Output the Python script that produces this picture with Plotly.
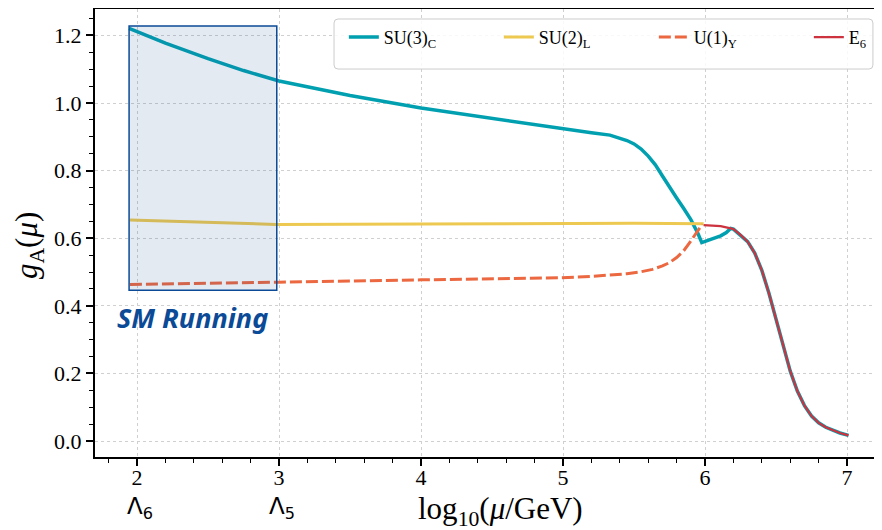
import plotly.graph_objects as go

# ---- data ----
su3_x = [1.944, 2.2, 2.5, 2.75, 3.0, 3.5, 4.0, 4.5, 5.0, 5.2, 5.33, 5.40, 5.45, 5.50, 5.55, 5.60, 5.65, 5.70,
         5.75, 5.80, 5.85, 5.90, 5.95, 5.977, 6.05, 6.11, 6.15, 6.18, 6.20, 6.25, 6.30, 6.35, 6.40, 6.45,
         6.50, 6.55, 6.60, 6.65, 6.70, 6.75, 6.80, 6.85, 6.90, 6.95, 7.01]
su3_y = [1.221, 1.177, 1.131, 1.096, 1.065, 1.022, 0.985, 0.954, 0.922, 0.912, 0.905, 0.897, 0.889, 0.879,
         0.864, 0.843, 0.817, 0.784, 0.749, 0.719, 0.688, 0.655, 0.614, 0.587, 0.598, 0.607, 0.617, 0.629,
         0.627, 0.610, 0.590, 0.556, 0.505, 0.437, 0.362, 0.280, 0.207, 0.148, 0.105, 0.074, 0.054,
         0.041, 0.032, 0.024, 0.017]

su2_x = [1.95, 2.3, 2.6, 2.98, 4.0, 5.0, 5.5, 5.99]
su2_y = [0.654, 0.650, 0.645, 0.641, 0.642, 0.644, 0.644, 0.643]

u1_x = [1.95, 2.5, 3.0, 4.0, 4.98, 5.2, 5.45, 5.55, 5.63, 5.70, 5.75, 5.80, 5.85, 5.90, 5.95, 5.98]
u1_y = [0.463, 0.466, 0.470, 0.477, 0.483, 0.487, 0.495, 0.501, 0.508, 0.518, 0.528, 0.543, 0.563, 0.592,
        0.624, 0.641]

e6_x = [5.99, 6.05, 6.11, 6.18, 6.20, 6.25, 6.30, 6.35, 6.40, 6.45, 6.50, 6.55, 6.60, 6.65, 6.70, 6.75,
        6.80, 6.85, 6.90, 6.95, 7.01]
e6_y = [0.639, 0.638, 0.636, 0.629, 0.627, 0.610, 0.590, 0.556, 0.505, 0.437, 0.362, 0.280, 0.207, 0.148,
        0.105, 0.074, 0.054, 0.041, 0.032, 0.024, 0.017]

sm_box_x = [1.944, 2.984]
sm_box_y = [0.446, 1.228]

x_ticks = [2, 3, 4, 5, 6, 7]
y_ticks = [0.0, 0.2, 0.4, 0.6, 0.8, 1.0, 1.2]
scale_labels = [(2, "Λ<sub>6</sub>"), (3, "Λ<sub>5</sub>")]

# ---- styling ----
TEAL, YEL, ORA, RED = "#00A0B0", "#EDC951", "#EB6841", "#CC333F"
SERIF = "Liberation Serif"
PW, PH = 785, 448  # plot area size in px

fig = go.Figure()
fig.add_trace(go.Scatter(x=su3_x, y=su3_y, mode="lines", name="SU(3)<sub>C</sub>",
                         line=dict(color=TEAL, width=3.5)))
fig.add_trace(go.Scatter(x=su2_x, y=su2_y, mode="lines", name="SU(2)<sub>L</sub>",
                         line=dict(color=YEL, width=3)))
fig.add_trace(go.Scatter(x=u1_x, y=u1_y, mode="lines", name="U(1)<sub>Y</sub>",
                         line=dict(color=ORA, width=3, dash="12px,4px")))
fig.add_trace(go.Scatter(x=e6_x, y=e6_y, mode="lines", name="E<sub>6</sub>",
                         line=dict(color=RED, width=2.2)))

fig.add_shape(type="rect", xref="x", yref="y",
              x0=sm_box_x[0], x1=sm_box_x[1], y0=sm_box_y[0], y1=sm_box_y[1],
              fillcolor="rgba(30,80,150,0.12)", line=dict(color="#0B4A96", width=1.5),
              layer="above")

# rounded legend frame (paper coords)
lx0, lx1, ly0, ly1 = 0.3045, 0.991, 0.866, 0.9777
rx, ry = 4 / PW, 4 / PH
legend_path = (f"M {lx0+rx},{ly1} L {lx1-rx},{ly1} Q {lx1},{ly1} {lx1},{ly1-ry} "
               f"L {lx1},{ly0+ry} Q {lx1},{ly0} {lx1-rx},{ly0} L {lx0+rx},{ly0} "
               f"Q {lx0},{ly0} {lx0},{ly0+ry} L {lx0},{ly1-ry} Q {lx0},{ly1} {lx0+rx},{ly1} Z")
fig.add_shape(type="path", xref="paper", yref="paper", path=legend_path,
              fillcolor="rgba(255,255,255,0.85)", line=dict(color="#cccccc", width=1), layer="above")

fig.add_annotation(x=sm_box_x[0], y=sm_box_y[0], xref="x", yref="y",
                   text="SM Running", showarrow=False, xanchor="left", yanchor="top",
                   xshift=-14, yshift=-7,
                   font=dict(family="Noto Sans", size=27, color="#0B4A96", weight="bold", style="italic"))

for xv, lab in scale_labels:
    fig.add_annotation(x=xv, y=0, xref="x", yref="paper", text=lab, showarrow=False,
                       xanchor="center", yanchor="middle", yshift=-51, xshift=3,
                       font=dict(family="DejaVu Sans", size=23, color="black"))

fig.add_annotation(x=0.516, y=0, xref="paper", yref="paper",
                   text="log<sub>10</sub>(<i>μ</i>/GeV)", showarrow=False,
                   xanchor="center", yanchor="middle", yshift=-54,
                   font=dict(family=SERIF, size=31, color="black"))

fig.add_annotation(x=-0.084, y=0.471, xref="paper", yref="paper",
                   text="<i>g</i><sub>A</sub>(<i>μ</i>)", showarrow=False, textangle=-90,
                   xanchor="center", yanchor="middle",
                   font=dict(family=SERIF, size=31, color="black"))

fig.update_layout(
    width=874, height=522,
    margin=dict(l=87, r=2, t=1, b=73, autoexpand=False),
    paper_bgcolor="white", plot_bgcolor="white",
    font=dict(family=SERIF, size=22, color="black"),
    showlegend=True,
    legend=dict(orientation="h", x=0.317, y=0.978, xanchor="left", yanchor="top",
                bgcolor="rgba(0,0,0,0)", borderwidth=0,
                font=dict(family=SERIF, size=18), entrywidth=110, entrywidthmode="pixels",
                traceorder="normal"),
)

common = dict(ticks="outside", ticklen=7, tickwidth=1.5, tickcolor="black", showline=True,
              linecolor="black", linewidth=2, mirror=True, showgrid=True, gridcolor="#d0d0d0",
              griddash="dot", gridwidth=1, zeroline=False, automargin=False,
              tickfont=dict(family=SERIF, size=22))
fig.update_xaxes(range=[1.704, 7.232], tickvals=x_ticks, ticklabelstandoff=-7, **common,
                 minor=dict(dtick=0.2, tick0=0, ticks="outside", ticklen=4, tickwidth=1.2,
                            tickcolor="black", showgrid=False))
fig.update_yaxes(range=[-0.047, 1.278], tickvals=y_ticks, ticktext=[f"{v:.1f}" for v in y_ticks], **common,
                 minor=dict(dtick=0.05, tick0=0, ticks="outside", ticklen=4, tickwidth=1.2,
                            tickcolor="black", showgrid=False))

fig.write_html("out.html")
